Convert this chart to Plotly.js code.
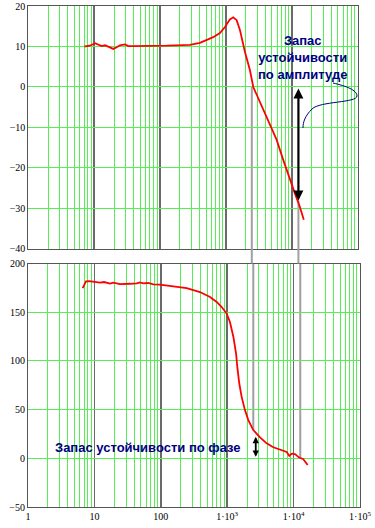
<!DOCTYPE html>
<html>
<head>
<meta charset="utf-8">
<script src="https://cdn.plot.ly/plotly-3.0.1.min.js"></script>
<style>html,body{margin:0;padding:0;background:#fff;}#chart{width:375px;height:528px;}</style>
</head>
<body>
<div id="chart"></div>
<script>
// Magnitude (dB) vs frequency
const freqMag = [7.1, 8.6, 10.3, 11.5, 13, 14.6, 16.4, 19.5, 21.9, 24.6, 29.3, 32.9, 39, 70, 126, 178, 283, 403, 509, 641, 811, 966, 1150, 1290, 1455, 1630, 1940, 2310, 2600, 3680, 4650, 5870, 7410, 9350, 11100, 13200, 14100, 15200];
const magDb   = [10.0, 10.2, 10.8, 10.5, 10.1, 10.3, 10.0, 9.4, 9.8, 10.3, 10.5, 10.1, 10.1, 10.1, 10.2, 10.3, 10.4, 10.9, 11.6, 12.3, 13.3, 14.8, 16.7, 17.2, 16.5, 14.1, 8.7, 4.2, 0, -5.6, -9.7, -13, -18, -22.9, -26.2, -29.5, -31, -32.8];

// Phase (deg) vs frequency
const freqPh   = [6.66, 7.47, 8.4, 10.2, 12.1, 14, 17.2, 19.3, 24.3, 34.4, 43.4, 48.6, 54.5, 64.8, 77, 97, 154, 245, 389, 551, 695, 826, 982, 1100, 1240, 1360, 1420, 1520, 1650, 1850, 2080, 2470, 3120, 3930, 4950, 6240, 7870, 8630, 9360, 10500, 12000, 14000, 16300];
const phaseDeg = [174.8, 181.7, 182, 181, 180.3, 181, 179.3, 180.3, 178.9, 179.2, 179.6, 180.6, 179.6, 180, 178.6, 178.3, 176.9, 174.8, 170.7, 165.6, 160.5, 155.3, 148.6, 140, 124.6, 107.6, 93.9, 76.8, 63.1, 49.5, 39.2, 29, 21.5, 15.4, 11.3, 8.5, 6.5, 2.4, 4.7, 4.4, 1, -1, -6.9];

// Axis ticks
const xDecades  = [1, 10, 100, 1000, 10000, 100000];
const xTickText = ['1', '10', '100', '1·10<sup>3</sup>', '1·10<sup>4</sup>', '1·10<sup>5</sup>'];
const minorMult = [2, 3, 4, 5, 6, 7, 8, 9];
const magTicks   = [-40, -30, -20, -10, 0, 10, 20];
const phaseTicks = [-50, 0, 50, 100, 150, 200];

// Stability margin markers
const gainCrossFreq = [2470];   // |H| = 0 dB
const gainCrossMag  = [0];
const gainCrossPh   = [29];
const phaseCrossFreq = [12600]; // phase = 0
const phaseCrossMag  = [-28];
const phaseCrossPh   = [1];
const gainMarginArrow  = {f: 12600, from: 0, to: -28};
const phaseMarginArrow = {f: 2690, from: 0, to: 22};

const labelGain  = 'Запас<br>устойчивости<br>по амплитуде';
const labelPhase = 'Запас устойчивости по фазе';

const minorVals = [];
xDecades.slice(0, -1).forEach(d => minorMult.forEach(m => minorVals.push(d * m)));

const GREEN = '#55ee55';
const tickFont = {family: 'Liberation Serif, Times New Roman, serif', size: 10, color: '#000'};
const navy = '#000080';
const labelFont = {family: 'Liberation Sans, Arial, sans-serif', size: 13, color: navy, weight: 'bold'};

const topDomain = [0.515, 1];
const botDomain = [0, 0.486];

const W = 375, H = 528, M = {l: 28, r: 15, t: 6, b: 21};
const pw = W - M.l - M.r, ph = H - M.t - M.b;
function P(px, py) { return ((px - M.l) / pw).toFixed(4) + ',' + ((H - M.b - py) / ph).toFixed(4); }

const traces = [
  {x: freqMag, y: magDb, xaxis: 'x', yaxis: 'y', mode: 'lines', line: {color: '#ff0000', width: 1.8}, hoverinfo: 'skip'},
  {x: freqPh, y: phaseDeg, xaxis: 'x2', yaxis: 'y2', mode: 'lines', line: {color: '#ff0000', width: 1.8}, hoverinfo: 'skip'}
];

function xAxis(domain, anchor, labels) {
  return {
    type: 'log', range: [0, 5], domain: domain, anchor: anchor,
    tickmode: 'array', tickvals: xDecades, ticktext: xTickText,
    showticklabels: labels, ticks: '', tickfont: tickFont,
    showgrid: true, gridcolor: '#6a6a6a', gridwidth: 1.5,
    minor: {tickmode: 'array', tickvals: minorVals, showgrid: true, gridcolor: GREEN, gridwidth: 1, ticks: ''},
    showline: true, mirror: true, linecolor: '#555', linewidth: 1,
    zeroline: false, fixedrange: true
  };
}
function yAxis(domain, anchor, range, vals) {
  return {
    domain: domain, anchor: anchor, range: range,
    tickmode: 'array', tickvals: vals, ticks: '', tickfont: tickFont,
    showgrid: true, gridcolor: GREEN, gridwidth: 1,
    showline: true, mirror: true, linecolor: '#555', linewidth: 1,
    zeroline: false, fixedrange: true
  };
}

const lineStyle = {color: '#a0a0a0', width: 2};
const shapes = [];
function markerLine(f, magY, phY) {
  shapes.push({type: 'line', xref: 'x', yref: 'y', x0: f, x1: f, y0: magY, y1: magTicks[0], line: lineStyle, layer: 'below'});
  shapes.push({type: 'line', xref: 'x', yref: 'paper', x0: f, x1: f, y0: topDomain[0], y1: botDomain[1], line: lineStyle});
  shapes.push({type: 'line', xref: 'x2', yref: 'y2', x0: f, x1: f, y0: phaseTicks[phaseTicks.length - 1], y1: phY, line: lineStyle, layer: 'below'});
}
markerLine(gainCrossFreq[0], gainCrossMag[0], gainCrossPh[0]);
markerLine(phaseCrossFreq[0], phaseCrossMag[0], phaseCrossPh[0]);

// bracket from the gain-margin label to its arrow
shapes.push({
  type: 'path', xref: 'paper', yref: 'paper',
  path: 'M ' + P(333, 83) + ' C ' + P(346, 86) + ' ' + P(357, 90) + ' ' + P(357, 96) +
        ' C ' + P(357, 103) + ' ' + P(320, 101) + ' ' + P(312, 109) +
        ' C ' + P(305, 116) + ' ' + P(303, 122) + ' ' + P(303, 128),
  line: {color: navy, width: 1}
});

const annotations = [
  {xref: 'x', yref: 'y', axref: 'x', ayref: 'y',
   x: Math.log10(gainMarginArrow.f), y: gainMarginArrow.to,
   ax: Math.log10(gainMarginArrow.f), ay: gainMarginArrow.from,
   text: '', showarrow: true, arrowside: 'end+start', arrowhead: 2, arrowsize: 0.9, arrowwidth: 2.2, arrowcolor: '#000', standoff: 0, startstandoff: 0},
  {xref: 'x2', yref: 'y2', axref: 'x2', ayref: 'y2',
   x: Math.log10(phaseMarginArrow.f), y: phaseMarginArrow.to,
   ax: Math.log10(phaseMarginArrow.f), ay: phaseMarginArrow.from,
   text: '', showarrow: true, arrowside: 'end+start', arrowhead: 2, arrowsize: 0.7, arrowwidth: 1.8, arrowcolor: '#000', standoff: 0, startstandoff: 0},
  {xref: 'paper', yref: 'paper', x: (302 - M.l) / pw, y: (H - M.b - 58) / ph, xanchor: 'center', yanchor: 'middle',
   text: labelGain, showarrow: false, align: 'center', font: labelFont},
  {xref: 'paper', yref: 'paper', x: (147.5 - M.l) / pw, y: (H - M.b - 447.7) / ph, xanchor: 'center', yanchor: 'middle',
   text: labelPhase, showarrow: false, font: labelFont}
];

const layout = {
  width: W, height: H, margin: M,
  paper_bgcolor: '#fff', plot_bgcolor: '#fff',
  showlegend: false,
  xaxis: xAxis([0.001, 0.993], 'y', false),
  yaxis: yAxis(topDomain, 'x', [-40, 20], magTicks),
  xaxis2: xAxis([0, 1], 'y2', true),
  yaxis2: yAxis(botDomain, 'x2', [-50, 200], phaseTicks),
  shapes: shapes,
  annotations: annotations
};

Plotly.newPlot('chart', traces, layout, {staticPlot: true, displayModeBar: false});
</script>
</body>
</html>
